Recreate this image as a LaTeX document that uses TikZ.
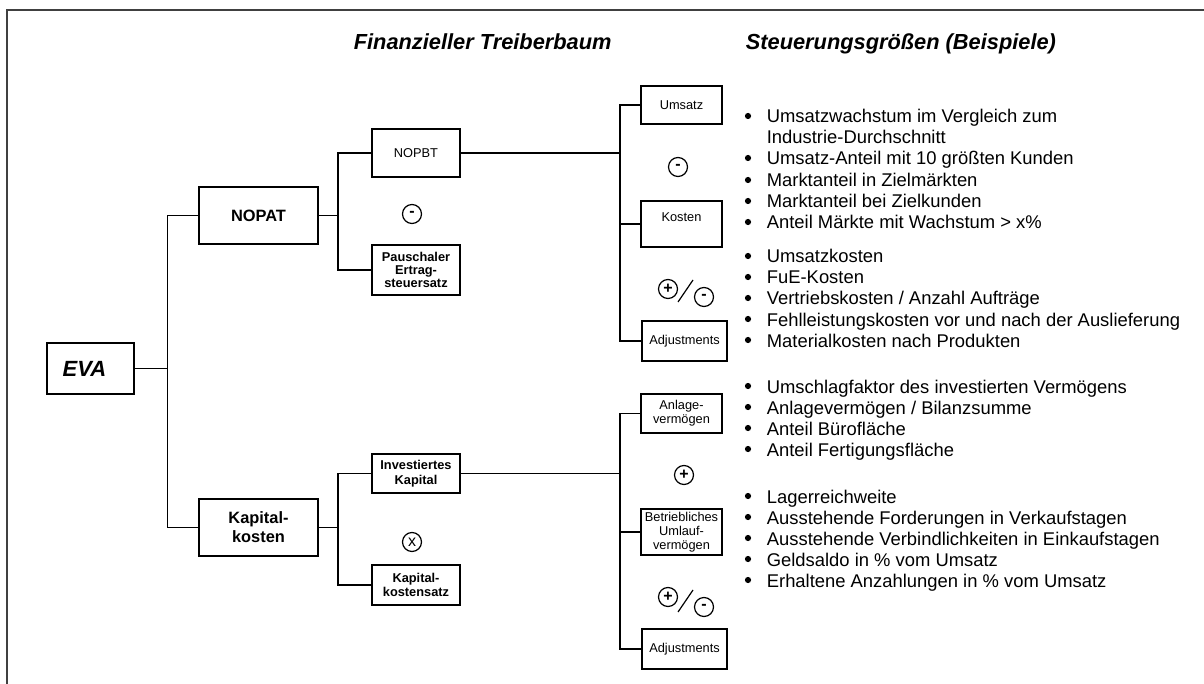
\documentclass[tikz,border=0pt]{standalone}
\usepackage{fontspec}
\setmainfont{Liberation Sans}
\newdimen\pxu
\pxu=0.5pt

\begin{document}
\begin{tikzpicture}[x=0.5pt,y=-0.5pt,line width=0.85pt,
	box/.style={draw, fill=white, inner sep=1pt, align=center},
	bigbox/.style={box, font=\fontsize{8.2}{9.5}\selectfont\bfseries, minimum width=119\pxu, minimum height=57\pxu},
	midbox/.style={box, font=\fontsize{6.4}{6.6}\selectfont\bfseries, minimum width=88\pxu},
	smallbox/.style={box, font=\fontsize{6.4}{7}\selectfont, minimum width=81\pxu},
	opcirc/.style={draw, circle, line width=0.6pt, inner sep=0pt, minimum size=19\pxu, font=\fontsize{8}{8}\selectfont\bfseries},
	item/.style={inner sep=0pt, anchor=base west, font=\fontsize{9.2}{10.6}\selectfont},
	headline/.style={inner sep=0pt, anchor=base west, font=\fontsize{10.9}{12}\selectfont\bfseries\itshape}]
	
	\useasboundingbox (0,0) rectangle (1204,684);
	\draw[line width=0.75pt, black!75] (7,684) -- (7,10) -- (1204,10);
	
	\node[headline] (hdtree) at (353,50) {Finanzieller Treiberbaum};
	\node[headline] (hdsteer) at (745,50) {Steuerungsgrößen (Beispiele)};
	
	% Treiberbaum
	\node[box, line width=1.4pt, minimum width=87\pxu, minimum height=51\pxu, font=\fontsize{11}{12}\selectfont\bfseries\itshape] (eva) at (90.5,368.5) {EVA\hspace{6pt}};
	\node[bigbox] (nopat) at (258.5,215.5) {NOPAT};
	\node[bigbox] (kapk) at (258.5,527.5) {Kapital-\\kosten};
	\node[smallbox, minimum width=88\pxu, minimum height=48\pxu] (nopbt) at (416,153) {NOPBT};
	\node[midbox, minimum height=50\pxu] (pausch) at (416,270) {Pauschaler\\Ertrag-\\steuersatz};
	\node[midbox, minimum height=39\pxu, font=\fontsize{6.4}{7.5}\selectfont\bfseries] (invk) at (416,473.5) {Investiertes\\Kapital};
	\node[midbox, minimum height=40\pxu] (kks) at (416,585) {Kapital-\\kostensatz};
	
	\node[smallbox, minimum height=38\pxu] (umsatz) at (681.5,105) {Umsatz};
	\node[smallbox, minimum height=46\pxu] (kosten) at (681.5,224) {Kosten\\\mbox{}};
	\node[smallbox, minimum width=85\pxu, minimum height=40\pxu] (adjo) at (684.5,341) {Adjustments};
	\node[smallbox, minimum height=39\pxu] (anlage) at (681.5,413.5) {Anlage-\\vermögen};
	\node[smallbox, minimum height=46\pxu] (betr) at (681.5,532) {Betriebliches\\Umlauf-\\vermögen};
	\node[smallbox, minimum width=85\pxu, minimum height=40\pxu] (adju) at (684.5,649) {Adjustments};
	
	% Verknuepfungen
	\node[opcirc] (opa) at (412,214) {-};
	\node[opcirc, font=\fontsize{8}{8}\selectfont] (opb) at (412,542) {x};
	\node[opcirc] (opc) at (678,167) {-};
	\node[opcirc] (opd) at (684,475) {+};
	\node[opcirc] (ope) at (668,289) {+};
	\node[opcirc] (opf) at (704,297) {-};
	\draw[line width=0.6pt] (678,302) -- (693,280);
	\node[opcirc] (opg) at (668,597) {+};
	\node[opcirc] (oph) at (704,607) {-};
	\draw[line width=0.6pt] (678,612) -- (693,590);
	
	\draw (eva.east) -- ++(32,0) coordinate (evabus) |- (nopat.west);
	\draw (evabus) |- (kapk.west);
	\draw (nopat.east) -- ++(19,0) coordinate (nopbus) |- (nopbt.west);
	\draw (nopbus) |- (pausch.west);
	\draw (kapk.east) -- ++(19,0) coordinate (kapbus) |- (invk.west);
	\draw (kapbus) |- (kks.west);
	\draw (nopbt.east) -- ++(159,0) coordinate (nopbtbus) |- (umsatz.west);
	\draw (nopbtbus) |- (kosten.west);
	\draw (nopbtbus) |- (adjo.west);
	\draw (invk.east) -- ++(159,0) coordinate (invbus) |- (anlage.west);
	\draw (invbus) |- (betr.west);
	\draw (invbus) |- (adju.west);
	
	% Steuerungsgroessen
	\foreach \yy/\txt in {123/{Umsatzwachstum im Vergleich zum}, 165/{Umsatz-Anteil mit 10 größten Kunden},
		187/{Marktanteil in Zielmärkten}, 208/{Marktanteil bei Zielkunden}, 229/{Anteil Märkte mit Wachstum > x\%},
		263/{Umsatzkosten}, 284/{FuE-Kosten}, 305/{Vertriebskosten / Anzahl Aufträge},
		326/{Fehlleistungskosten vor und nach der Auslieferung}, 347/{Materialkosten nach Produkten},
		393/{Umschlagfaktor des investierten Vermögens}, 414/{Anlagevermögen / Bilanzsumme},
		435/{Anteil Bürofläche}, 456/{Anteil Fertigungsfläche},
		503/{Lagerreichweite}, 524/{Ausstehende Forderungen in Verkaufstagen},
		545/{Ausstehende Verbindlichkeiten in Einkaufstagen}, 566/{Geldsaldo in \% vom Umsatz},
		587/{Erhaltene Anzahlungen in \% vom Umsatz}} {
		\fill (748,\yy-7) circle (3.1);
		\node[item] (it\yy) at (766,\yy) {\txt};
	}
	\node[item] (it144) at (766,144) {Industrie-Durchschnitt};
	
\end{tikzpicture}
\end{document}
